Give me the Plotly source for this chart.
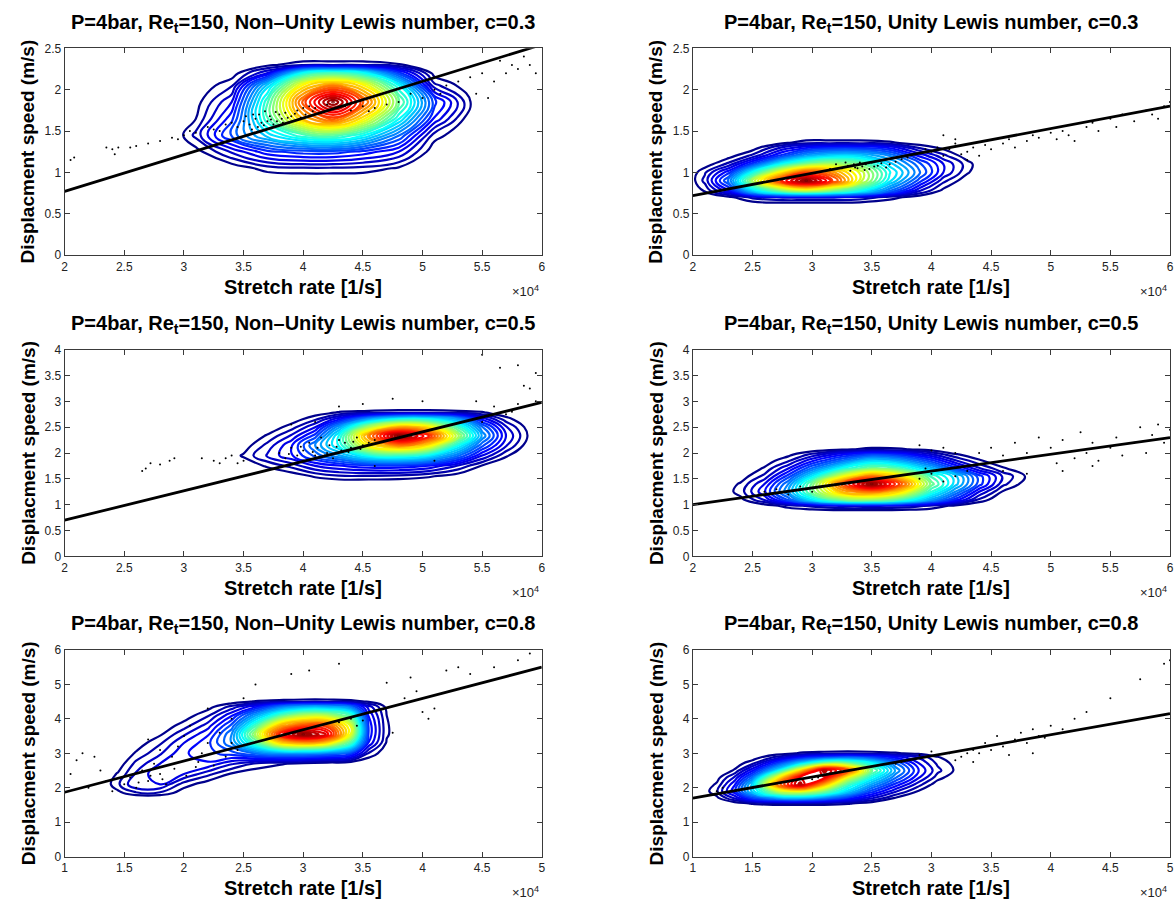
import plotly.graph_objects as go

W, H = 1175, 909

# ---------------- data ----------------
TITLES = [
    "P=4bar, Re<sub>t</sub>=150, Non\u2013Unity Lewis number, c=0.3",
    "P=4bar, Re<sub>t</sub>=150, Unity Lewis number, c=0.3",
    "P=4bar, Re<sub>t</sub>=150, Non\u2013Unity Lewis number, c=0.5",
    "P=4bar, Re<sub>t</sub>=150, Unity Lewis number, c=0.5",
    "P=4bar, Re<sub>t</sub>=150, Non\u2013Unity Lewis number, c=0.8",
    "P=4bar, Re<sub>t</sub>=150, Unity Lewis number, c=0.8",
]
X_LABEL = "Stretch rate [1/s]"
Y_LABEL = "Displacment speed (m/s)"
X_EXPONENT = "\u00d710<sup>4</sup>"

X_TICKS_A = [2, 2.5, 3, 3.5, 4, 4.5, 5, 5.5, 6]
X_TICKS_B = [1, 1.5, 2, 2.5, 3, 3.5, 4, 4.5, 5]
Y_TICKS_1 = [0, 0.5, 1, 1.5, 2, 2.5]
Y_TICKS_2 = [0, 0.5, 1, 1.5, 2, 2.5, 3, 3.5, 4]
Y_TICKS_3 = [0, 1, 2, 3, 4, 5, 6]

# regression lines (x in 1e4 1/s)
LINE_TL_X, LINE_TL_Y = [2, 6], [0.77, 2.545]
LINE_TR_X, LINE_TR_Y = [2, 6], [0.72, 1.80]
LINE_ML_X, LINE_ML_Y = [2, 6], [0.70, 2.98]
LINE_MR_X, LINE_MR_Y = [2, 6], [1.00, 2.30]
LINE_BL_X, LINE_BL_Y = [1, 5], [1.87, 5.50]
LINE_BR_X, LINE_BR_Y = [1, 5], [1.70, 4.15]

# scattered samples
DOTS_TL_X = [2.05, 2.08, 2.35, 2.4, 2.42, 2.45, 2.55, 2.6, 2.7, 2.8, 2.9, 2.95, 3.0, 3.05, 3.1, 3.2, 3.25,
             3.4, 3.45, 3.5, 3.55, 3.6, 3.62, 3.65, 3.7, 3.72, 3.75, 3.8, 3.82, 3.85, 3.9, 3.95, 4.0, 4.05,
             4.1, 4.2, 4.35, 4.5, 4.6, 4.7, 4.8, 4.9, 5.0, 5.1, 5.15, 5.2, 5.3, 5.4, 5.5, 5.6, 5.7, 5.75,
             5.8, 5.85, 5.9, 5.95, 5.55, 5.45, 5.65, 3.58, 3.68, 3.78, 3.88, 3.98,
             3.52, 3.57, 3.63, 3.67, 3.73, 3.77, 3.83, 3.87, 3.93, 4.02, 4.08, 4.15, 3.35, 3.3, 4.4, 4.55]
DOTS_TL_Y = [1.15, 1.18, 1.30, 1.28, 1.22, 1.30, 1.30, 1.32, 1.35, 1.38, 1.42, 1.40, 1.45, 1.50, 1.48, 1.55, 1.52,
             1.60, 1.55, 1.62, 1.58, 1.65, 1.55, 1.60, 1.62, 1.68, 1.58, 1.70, 1.65, 1.72, 1.68, 1.75, 1.78, 1.80,
             1.78, 1.82, 1.80, 1.80, 1.78, 1.82, 1.85, 1.95, 1.90, 2.00, 1.95, 2.05, 2.10, 2.15, 2.20, 2.10, 2.20, 2.30,
             2.25, 2.40, 2.30, 2.20, 1.90, 1.95, 2.35, 1.70, 1.74, 1.62, 1.60, 1.66,
             1.68, 1.52, 1.70, 1.57, 1.64, 1.73, 1.60, 1.66, 1.71, 1.70, 1.74, 1.72, 1.58, 1.50, 1.75, 1.74]

DOTS_TR_X = [4.0, 4.05, 4.1, 4.15, 4.2, 4.25, 4.3, 4.35, 4.4, 4.45, 4.5, 4.6, 4.65, 4.7, 4.8, 4.85, 4.9, 5.0,
             5.05, 5.1, 5.15, 5.2, 5.3, 5.35, 5.4, 5.5, 5.55, 5.6, 5.7, 5.8, 5.85, 5.9, 5.95, 6.0, 4.1, 4.2, 4.3,
             3.95, 3.25, 3.3, 3.32, 3.35, 3.38, 3.4, 3.42, 3.45, 3.48, 3.5, 3.55, 3.6, 3.65, 3.7, 3.2, 3.15,
             3.28, 3.36, 3.44, 3.52, 3.58, 3.62, 3.75, 3.8]
DOTS_TR_Y = [1.25, 1.30, 1.20, 1.28, 1.35, 1.22, 1.25, 1.30, 1.20, 1.33, 1.28, 1.35, 1.40, 1.30, 1.38, 1.45, 1.42, 1.48,
             1.40, 1.50, 1.45, 1.38, 1.55, 1.60, 1.50, 1.65, 1.55, 1.70, 1.62, 1.75, 1.70, 1.65, 1.80, 1.85, 1.45, 1.40, 1.15,
             1.28, 1.05, 1.08, 1.02, 1.10, 1.05, 1.12, 1.07, 1.10, 1.04, 1.12, 1.08, 1.15, 1.10, 1.13, 1.10, 1.04,
             1.12, 1.06, 1.03, 1.07, 1.11, 1.06, 1.16, 1.18]

DOTS_ML_X = [2.65, 2.68, 2.72, 2.8, 2.88, 2.92, 3.15, 3.25, 3.3, 3.35, 3.4, 3.45, 3.5,
             3.8, 3.85, 3.9, 3.95, 4.0, 4.05, 4.1, 4.12, 4.15, 4.2, 4.22, 4.25, 4.3, 4.32, 4.35, 4.4, 4.45,
             4.5, 4.55, 4.6, 4.0, 4.18, 3.9, 4.1, 4.3, 4.5, 4.75, 5.0, 5.45, 5.6, 5.75, 5.8, 5.85, 5.9,
             5.95, 5.65, 5.8, 5.95, 5.5, 5.7, 5.5, 4.6, 5.1,
             3.88, 3.98, 4.08, 4.14, 4.28, 4.38, 4.42, 4.48]
DOTS_ML_Y = [1.65, 1.70, 1.80, 1.78, 1.85, 1.90, 1.90, 1.85, 1.80, 1.90, 1.95, 1.80, 1.85,
             2.00, 1.90, 2.10, 1.95, 2.05, 2.20, 1.95, 2.10, 2.30, 2.00, 2.15, 1.90, 2.25, 2.05, 2.20, 2.10, 2.30,
             2.15, 2.20, 2.25, 1.85, 1.95, 2.55, 2.60, 2.90, 2.95, 3.05, 3.00, 3.00, 2.90, 2.80, 2.95, 3.30, 3.25,
             3.00, 3.65, 3.70, 3.55, 3.90, 2.75, 2.60, 1.75, 1.85,
             1.98, 2.12, 2.02, 1.92, 2.12, 2.02, 2.22, 2.08]

DOTS_MR_X = [4.4, 4.5, 4.6, 4.7, 4.8, 4.9, 5.0, 5.05, 5.1, 5.2, 5.25, 5.3, 5.35, 5.4, 5.5, 5.55, 5.6, 5.7,
             5.75, 5.8, 5.85, 5.9, 5.95, 6.0, 4.1, 4.0, 3.9, 4.2, 4.6, 4.8, 5.1, 5.35, 2.6, 2.7, 2.8, 2.9, 3.0,
             2.55, 3.9, 4.0, 4.1, 4.2, 4.3, 3.95]
DOTS_MR_Y = [2.00, 2.10, 1.95, 2.20, 2.00, 2.30, 2.10, 1.80, 2.25, 1.90, 2.40, 2.00, 2.20, 1.85, 2.10, 2.30, 1.95, 2.20,
             2.50, 2.00, 2.35, 2.55, 2.20, 2.45, 2.10, 2.05, 2.15, 2.00, 1.65, 1.60, 1.65, 1.75, 1.25, 1.30, 1.20, 1.35, 1.25,
             1.20, 1.50, 1.60, 1.45, 1.55, 1.65, 1.70]

DOTS_BL_X = [1.05, 1.1, 1.15, 1.25, 1.2, 1.3, 1.35, 1.4, 1.5, 1.55, 1.6, 1.65, 1.7, 1.75, 1.8, 1.85, 1.9, 1.95,
             2.0, 2.05, 2.1, 2.15, 2.2, 2.3, 2.35, 2.4, 2.45, 1.8, 1.7, 2.2, 2.4, 2.5, 2.6, 2.9, 3.05, 3.3,
             3.7, 3.85, 3.95, 4.0, 4.1, 4.2, 4.3, 4.4, 4.6, 4.8, 4.9, 3.9, 4.05, 3.75,
             1.62, 1.72, 1.82, 1.92, 2.02, 2.12, 2.25, 3.3, 3.4, 3.45, 3.5]
DOTS_BL_Y = [2.4, 2.8, 3.0, 2.9, 2.0, 2.5, 2.2, 1.9, 2.1, 2.3, 2.0, 2.5, 2.2, 2.7, 2.4, 2.1, 2.9, 3.2,
             3.5, 3.8, 2.6, 3.0, 3.3, 3.6, 2.9, 3.3, 3.1, 3.1, 3.4, 4.3, 4.0, 4.6, 5.0, 5.3, 5.4, 5.6,
             5.05, 4.6, 4.8, 4.2, 4.3, 5.4, 5.5, 5.3, 5.5, 5.7, 5.9, 5.2, 4.0, 3.6,
             2.15, 2.35, 2.25, 2.55, 2.35, 2.75, 2.65, 3.9, 4.0, 3.8, 3.95]

DOTS_BR_X = [3.2, 3.25, 3.3, 3.35, 3.4, 3.45, 3.5, 3.55, 3.6, 3.65, 3.7, 3.75, 3.8, 3.85, 3.9, 3.95, 4.0,
             4.1, 4.2, 4.3, 4.5, 4.75, 4.95, 5.0, 3.15, 3.0, 2.9, 2.7, 2.75, 1.2, 1.25, 1.5, 1.55, 2.0, 2.05,
             3.35, 3.85]
DOTS_BR_Y = [2.80, 2.90, 3.00, 2.75, 3.00, 3.30, 3.10, 3.50, 3.20, 2.95, 3.40, 3.60, 3.30, 3.70, 3.50, 3.45, 3.80,
             3.70, 4.00, 4.20, 4.60, 5.15, 5.60, 5.70, 3.00, 3.05, 2.95, 2.70, 2.75, 1.90, 2.00, 2.00, 2.05, 2.25, 2.30,
             3.10, 3.00]

# density grids (rows listed from top y to bottom y)
DENS_TL_X = [2.9, 3.1, 3.4, 3.7, 4.0, 4.25, 4.5, 4.8, 5.1, 5.4, 5.55]
DENS_TL_Y = [2.4, 2.3, 2.2, 2.05, 1.85, 1.65, 1.45, 1.25, 1.05, 0.9]
DENS_TL_Z = [
    [0, 0, 0, 0, 0, 0, 0, 0, 0, 0, 0],
    [0, 0, 0.1, 0.5, 1.2, 1.2, 1.2, 0.8, 0.1, 0, 0],
    [0, 0, 0.3, 2.5, 8, 9, 8, 4, 0.4, 0, 0],
    [0, 0.1, 1.2, 7, 13, 15, 13, 8, 1.5, 0.2, 0],
    [0, 0.4, 2.5, 9, 16, 20, 16, 10, 4, 0.75, 0],
    [0, 0.7, 3.5, 9, 14, 16, 13, 8, 3, 0.2, 0],
    [0, 1.5, 4.5, 7, 9, 9.5, 8, 5, 1.0, 0, 0],
    [0, 0.4, 2, 3.5, 4, 4, 3.5, 2.5, 0.2, 0, 0],
    [0, 0, 0.2, 1, 1.2, 1.2, 1.1, 0.6, 0, 0, 0],
    [0, 0, 0, 0, 0, 0, 0, 0, 0, 0, 0],
]

DENS_TR_X = [1.95, 2.1, 2.3, 2.5, 2.75, 2.95, 3.15, 3.4, 3.65, 3.9, 4.1, 4.3, 4.45]
DENS_TR_Y = [1.45, 1.36, 1.3, 1.2, 1.1, 1.0, 0.9, 0.78, 0.7, 0.6]
DENS_TR_Z = [
    [0, 0, 0, 0, 0, 0, 0, 0, 0, 0, 0, 0, 0],
    [0, 0, 0, 0, 0.5, 1, 1, 1, 0.8, 0.3, 0, 0, 0],
    [0, 0, 0, 0.3, 2, 3, 3.5, 3.5, 3, 1.2, 0.5, 0, 0],
    [0, 0, 0.4, 1.5, 4, 6, 7, 7, 5.5, 3, 1.5, 0.3, 0],
    [0, 0.3, 1.5, 4, 8, 10, 11, 10, 7, 4.5, 2.5, 1, 0],
    [0, 1.2, 3.5, 8, 13, 16, 15, 12, 8, 5, 2.5, 0.8, 0],
    [0, 1.5, 5, 11, 17, 20, 17, 12, 7.5, 4, 1.5, 0.2, 0],
    [0, 0.8, 3, 7, 10, 11, 10, 8, 5, 2, 0.5, 0, 0],
    [0, 0, 0.5, 1.5, 2, 2, 2, 1.8, 1, 0.3, 0, 0, 0],
    [0, 0, 0, 0, 0, 0, 0, 0, 0, 0, 0, 0, 0],
]

DENS_ML_X = [3.3, 3.5, 3.7, 3.9, 4.1, 4.3, 4.55, 4.8, 5.05, 5.3, 5.5, 5.7, 5.9, 6.0]
DENS_ML_Y = [2.9, 2.78, 2.65, 2.5, 2.33, 2.15, 1.95, 1.75, 1.55, 1.4]
DENS_ML_Z = [
    [0, 0, 0, 0, 0, 0, 0, 0, 0, 0, 0, 0, 0, 0],
    [0, 0, 0, 0, 0.3, 0.8, 1, 1.2, 1.2, 1, 0.8, 0.2, 0, 0],
    [0, 0, 0, 0.3, 1.2, 3, 6, 8, 8, 6, 3, 1, 0, 0],
    [0, 0, 0.2, 1, 2.5, 6, 11, 14, 13, 9, 5, 2, 0.3, 0],
    [0, 0, 0.8, 2, 4, 8, 15, 20, 17, 11, 6, 2.5, 0.5, 0],
    [0, 0.3, 1.5, 3, 5.5, 8, 13, 15, 13, 8, 4.5, 2, 0.2, 0],
    [0, 0.8, 2, 3, 4.5, 6, 8, 8.5, 7.5, 5, 2.5, 0.8, 0, 0],
    [0, 0.2, 0.8, 1.5, 2.5, 3, 3.5, 3.5, 3, 1.8, 0.6, 0, 0, 0],
    [0, 0, 0, 0.2, 0.8, 1.2, 1.2, 1.1, 0.8, 0.3, 0, 0, 0, 0],
    [0, 0, 0, 0, 0, 0, 0, 0, 0, 0, 0, 0, 0, 0],
]

DENS_MR_X = [2.2, 2.4, 2.6, 2.8, 3.0, 3.25, 3.5, 3.75, 4.0, 4.2, 4.4, 4.6, 4.8, 4.95]
DENS_MR_Y = [2.2, 2.07, 1.97, 1.85, 1.7, 1.55, 1.4, 1.25, 1.1, 0.98, 0.85]
DENS_MR_Z = [
    [0, 0, 0, 0, 0, 0, 0, 0, 0, 0, 0, 0, 0, 0],
    [0, 0, 0, 0, 0.2, 0.6, 0.9, 0.8, 0.4, 0, 0, 0, 0, 0],
    [0, 0, 0, 0.5, 1.5, 3, 4, 3.5, 2, 0.8, 0.3, 0, 0, 0],
    [0, 0, 0.3, 1.2, 3, 5, 7, 6, 4, 2, 0.8, 0.2, 0, 0],
    [0, 0, 0.8, 2.5, 5, 8, 10, 9, 6.5, 4, 2, 0.8, 0.2, 0],
    [0, 0.3, 1.5, 4, 7.5, 12, 15, 13, 9, 7, 4, 1.8, 0.6, 0],
    [0, 0.8, 2.5, 5.5, 10, 16, 20, 16, 10, 7, 4, 1.5, 0.3, 0],
    [0, 1, 3, 6, 10, 14, 15, 13, 8.5, 5.5, 2.5, 0.6, 0, 0],
    [0, 0.5, 2, 4.5, 7.5, 10, 10.5, 9, 6, 3.5, 1.2, 0, 0, 0],
    [0, 0, 0.3, 1, 1.5, 2, 2, 1.8, 1.2, 0.5, 0, 0, 0, 0],
    [0, 0, 0, 0, 0, 0, 0, 0, 0, 0, 0, 0, 0, 0],
]

DENS_BL_X = [1.3, 1.45, 1.6, 1.8, 2.0, 2.2, 2.4, 2.6, 2.8, 3.0, 3.2, 3.4, 3.55, 3.7, 3.85]
DENS_BL_Y = [4.65, 4.5, 4.35, 4.1, 3.8, 3.55, 3.3, 3.0, 2.7, 2.4, 2.1, 1.85, 1.7]
DENS_BL_Z = [
    [0, 0, 0, 0, 0, 0, 0, 0, 0, 0, 0, 0, 0, 0, 0],
    [0, 0, 0, 0, 0, 0, 0.3, 0.8, 1, 1.2, 1.2, 1, 0.6, 0.1, 0],
    [0, 0, 0, 0, 0, 0.4, 1.5, 3, 5, 6, 6, 5, 2.2, 0.5, 0],
    [0, 0, 0, 0, 0.3, 1.2, 3, 6, 9, 11, 11, 9, 3, 0.7, 0],
    [0, 0, 0, 0.2, 1, 2.2, 4.5, 9, 14, 16, 16, 12, 3.5, 0.8, 0],
    [0, 0, 0, 0.6, 1.8, 3, 5.5, 11, 17, 20, 18, 12, 3.5, 0.8, 0],
    [0, 0, 0.3, 1.2, 2.5, 3.5, 5.5, 9, 13, 14, 13, 9, 3, 0.6, 0],
    [0, 0, 0.8, 1.8, 3, 3.5, 4, 5, 5.5, 5.5, 5, 4, 1.2, 0.2, 0],
    [0, 0.3, 1.5, 2.5, 3, 3, 2, 1.2, 0.8, 0.5, 0.2, 0, 0, 0, 0],
    [0, 0.8, 2, 3, 2.5, 1.5, 0.6, 0.2, 0, 0, 0, 0, 0, 0, 0],
    [0, 1.2, 2.5, 2.5, 1, 0.3, 0, 0, 0, 0, 0, 0, 0, 0, 0],
    [0, 0.5, 1.2, 1.2, 0.3, 0, 0, 0, 0, 0, 0, 0, 0, 0, 0],
    [0, 0, 0, 0, 0, 0, 0, 0, 0, 0, 0, 0, 0, 0, 0],
]

DENS_BR_X = [1.05, 1.2, 1.35, 1.5, 1.7, 1.9, 2.1, 2.3, 2.5, 2.7, 2.9, 3.05, 3.2, 3.35]
DENS_BR_Y = [3.15, 3.0, 2.88, 2.7, 2.5, 2.3, 2.1, 1.9, 1.7, 1.55, 1.4]
DENS_BR_Z = [
    [0, 0, 0, 0, 0, 0, 0, 0, 0, 0, 0, 0, 0, 0],
    [0, 0, 0, 0, 0.3, 0.8, 1, 1.1, 1, 0.8, 0.5, 0.2, 0, 0],
    [0, 0, 0, 0.3, 1.5, 3, 4, 4.5, 4, 3, 1.8, 0.8, 0.2, 0],
    [0, 0, 0.3, 1.2, 4, 7, 10, 10, 8, 5, 2.5, 1.2, 0.5, 0],
    [0, 0, 0.8, 3, 7, 13, 19, 16, 10, 6, 3, 1.5, 0.6, 0],
    [0, 0.4, 2, 5, 12, 18, 18, 12, 8, 5, 2.5, 1, 0.2, 0],
    [0, 0.8, 3, 7, 15, 19, 14, 9, 6, 3.5, 1.5, 0.3, 0, 0],
    [0, 1.2, 3.5, 7, 11, 12, 10, 7, 4, 2, 0.6, 0, 0, 0],
    [0, 0.5, 2, 4, 5.5, 6, 5, 3.5, 2, 0.6, 0, 0, 0, 0],
    [0, 0, 0.3, 0.8, 1, 1, 1, 0.8, 0.3, 0, 0, 0, 0, 0],
    [0, 0, 0, 0, 0, 0, 0, 0, 0, 0, 0, 0, 0, 0],
]

# ---------------- layout geometry (pixels) ----------------
COLS = [(62, 542), (694, 1174)]
ROWS = [(42, 252), (348, 558), (653, 863)]
TITLE_Y = [17, 322, 627]

panels = [
    dict(dx=DENS_TL_X, dy=DENS_TL_Y, dz=DENS_TL_Z, sx=DOTS_TL_X, sy=DOTS_TL_Y, lx=LINE_TL_X, ly=LINE_TL_Y,
         xt=X_TICKS_A, yt=Y_TICKS_1),
    dict(dx=DENS_TR_X, dy=DENS_TR_Y, dz=DENS_TR_Z, sx=DOTS_TR_X, sy=DOTS_TR_Y, lx=LINE_TR_X, ly=LINE_TR_Y,
         xt=X_TICKS_A, yt=Y_TICKS_1),
    dict(dx=DENS_ML_X, dy=DENS_ML_Y, dz=DENS_ML_Z, sx=DOTS_ML_X, sy=DOTS_ML_Y, lx=LINE_ML_X, ly=LINE_ML_Y,
         xt=X_TICKS_A, yt=Y_TICKS_2),
    dict(dx=DENS_MR_X, dy=DENS_MR_Y, dz=DENS_MR_Z, sx=DOTS_MR_X, sy=DOTS_MR_Y, lx=LINE_MR_X, ly=LINE_MR_Y,
         xt=X_TICKS_A, yt=Y_TICKS_2),
    dict(dx=DENS_BL_X, dy=DENS_BL_Y, dz=DENS_BL_Z, sx=DOTS_BL_X, sy=DOTS_BL_Y, lx=LINE_BL_X, ly=LINE_BL_Y,
         xt=X_TICKS_B, yt=Y_TICKS_3),
    dict(dx=DENS_BR_X, dy=DENS_BR_Y, dz=DENS_BR_Z, sx=DOTS_BR_X, sy=DOTS_BR_Y, lx=LINE_BR_X, ly=LINE_BR_Y,
         xt=X_TICKS_B, yt=Y_TICKS_3),
]

JET = [[0.0, "rgb(0,0,140)"], [0.12, "rgb(0,0,255)"], [0.37, "rgb(0,255,255)"],
       [0.62, "rgb(255,255,0)"], [0.87, "rgb(255,0,0)"], [1.0, "rgb(128,0,0)"]]

FONT = "Liberation Sans, Arial, Helvetica, sans-serif"
AXC = "#3a3a3a"


def fmt(v):
    return ("%g" % v)


fig = go.Figure()
annotations = []
layout_axes = {}

for i, p in enumerate(panels):
    r, c = divmod(i, 2)
    n = "" if i == 0 else str(i + 1)
    xa, ya = "x" + n, "y" + n
    (px0, px1), (py0, py1) = COLS[c], ROWS[r]

    fig.add_trace(go.Contour(
        x=p["dx"], y=p["dy"][::-1], z=p["dz"][::-1],
        xaxis=xa, yaxis=ya,
        colorscale=JET, zmin=0.5, zmax=20, showscale=False,
        contours=dict(coloring="lines", start=0.7, end=19.9, size=0.6),
        line=dict(width=2.2, smoothing=1.3),
        hoverinfo="skip",
    ))
    fig.add_trace(go.Scatter(
        x=p["sx"], y=p["sy"], xaxis=xa, yaxis=ya, mode="markers",
        marker=dict(size=2, color="black"), hoverinfo="skip",
    ))
    fig.add_trace(go.Scatter(
        x=p["lx"], y=p["ly"], xaxis=xa, yaxis=ya, mode="lines",
        line=dict(color="black", width=2.8), hoverinfo="skip",
    ))

    xt, yt = p["xt"], p["yt"]
    layout_axes["xaxis" + n] = dict(
        domain=[px0 / W, px1 / W], anchor=ya, range=[xt[0], xt[-1]],
        tickvals=xt, ticktext=[fmt(v) for v in xt],
        ticks="inside", ticklen=5, tickcolor=AXC, showline=True, linecolor=AXC, linewidth=1,
        mirror="ticks", showgrid=False, zeroline=False,
        tickfont=dict(family=FONT, size=12, color="#222"),
    )
    layout_axes["yaxis" + n] = dict(
        domain=[1 - py1 / H, 1 - py0 / H], anchor=xa, range=[yt[0], yt[-1]],
        tickvals=yt, ticktext=[fmt(v) for v in yt],
        ticks="inside", ticklen=5, tickcolor=AXC, showline=True, linecolor=AXC, linewidth=1,
        mirror="ticks", showgrid=False, zeroline=False,
        tickfont=dict(family=FONT, size=12, color="#222"),
    )

    cx = (px0 + px1) / 2
    annotations.append(dict(
        text="<b>" + TITLES[i] + "</b>", x=cx / W, y=1 - TITLE_Y[r] / H, xref="paper", yref="paper",
        xanchor="center", yanchor="middle", showarrow=False,
        font=dict(family=FONT, size=20, color="black"),
    ))
    annotations.append(dict(
        text="<b>" + X_LABEL + "</b>", x=cx / W, y=1 - (py1 + 32) / H, xref="paper", yref="paper",
        xanchor="center", yanchor="middle", showarrow=False,
        font=dict(family=FONT, size=20, color="black"),
    ))
    annotations.append(dict(
        text="<b>" + Y_LABEL + "</b>", x=(px0 - 37) / W, y=1 - (py0 + py1) / 2 / H, xref="paper", yref="paper",
        xanchor="center", yanchor="middle", textangle=-90, showarrow=False,
        font=dict(family=FONT, size=19, color="black"),
    ))
    annotations.append(dict(
        text=X_EXPONENT, x=(px1 - 1) / W, y=1 - (py1 + 36) / H, xref="paper", yref="paper",
        xanchor="right", yanchor="middle", showarrow=False,
        font=dict(family=FONT, size=13, color="#222"),
    ))

fig.update_layout(
    width=W, height=H, margin=dict(l=0, r=0, t=0, b=0),
    paper_bgcolor="white", plot_bgcolor="white", showlegend=False,
    annotations=annotations, **layout_axes,
)

fig.write_html("out.html")
